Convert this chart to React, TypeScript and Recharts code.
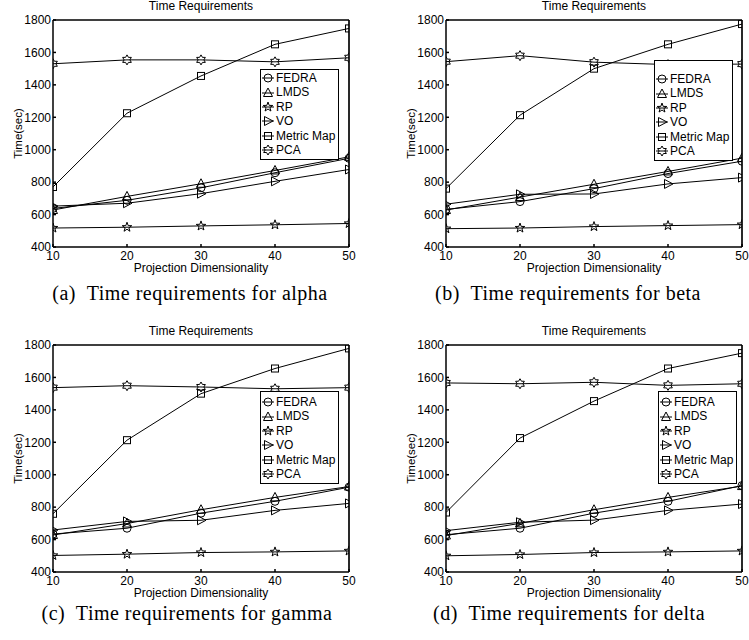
import React from "react";
import { Legend, Line, LineChart, ReferenceLine, XAxis, YAxis } from "recharts";

const SANS = "'Liberation Sans', Arial, Helvetica, sans-serif";
const SERIF = "'Liberation Serif', 'Times New Roman', serif";

const dims = [10, 20, 30, 40, 50];
const yTicks = [400, 600, 800, 1000, 1200, 1400, 1600, 1800];

// (a) alpha
const alphaFedra = [638, 688, 765, 858, 947];
const alphaLmds = [628, 712, 790, 872, 956];
const alphaRp = [517, 522, 530, 537, 545];
const alphaVo = [652, 670, 729, 805, 878];
const alphaMetricMap = [770, 1225, 1455, 1650, 1748];
const alphaPca = [1530, 1554, 1554, 1542, 1567];

// (b) beta
const betaFedra = [632, 680, 760, 853, 929];
const betaLmds = [628, 708, 787, 866, 948];
const betaRp = [513, 517, 526, 532, 538];
const betaVo = [664, 725, 727, 789, 828];
const betaMetricMap = [760, 1213, 1500, 1650, 1775];
const betaPca = [1543, 1580, 1540, 1525, 1528];

// (c) gamma
const gammaFedra = [634, 670, 763, 836, 923];
const gammaLmds = [628, 699, 784, 860, 927];
const gammaRp = [502, 510, 520, 524, 530];
const gammaVo = [659, 712, 719, 780, 823];
const gammaMetricMap = [759, 1213, 1500, 1655, 1779];
const gammaPca = [1537, 1549, 1541, 1530, 1537];

// (d) delta
const deltaFedra = [630, 670, 763, 836, 933];
const deltaLmds = [625, 700, 784, 860, 930];
const deltaRp = [500, 508, 520, 524, 530];
const deltaVo = [655, 707, 720, 780, 819];
const deltaMetricMap = [767, 1226, 1454, 1655, 1750];
const deltaPca = [1566, 1561, 1570, 1551, 1561];

type Shape = "circle" | "triUp" | "pentagram" | "triRight" | "square" | "hexagram";

const SERIES: { key: string; name: string; shape: Shape }[] = [
  { key: "fedra", name: "FEDRA", shape: "circle" },
  { key: "lmds", name: "LMDS", shape: "triUp" },
  { key: "rp", name: "RP", shape: "pentagram" },
  { key: "vo", name: "VO", shape: "triRight" },
  { key: "mm", name: "Metric Map", shape: "square" },
  { key: "pca", name: "PCA", shape: "hexagram" },
];

function starPoints(cx: number, cy: number, n: number, ro: number, ri: number) {
  const pts: string[] = [];
  for (let i = 0; i < n * 2; i++) {
    const r = i % 2 === 0 ? ro : ri;
    const a = -Math.PI / 2 + (i * Math.PI) / n;
    pts.push(`${cx + r * Math.cos(a)},${cy + r * Math.sin(a)}`);
  }
  return pts.join(" ");
}

function MarkerShape({ shape, cx, cy }: { shape: Shape; cx: number; cy: number }) {
  const s = { fill: "none", stroke: "#000", strokeWidth: 1 };
  switch (shape) {
    case "circle":
      return <circle cx={cx} cy={cy} r={4} {...s} />;
    case "triUp":
      return <polygon points={`${cx},${cy - 5} ${cx - 4.5},${cy + 3.5} ${cx + 4.5},${cy + 3.5}`} {...s} />;
    case "triRight":
      return <polygon points={`${cx + 5},${cy} ${cx - 3.5},${cy - 4.5} ${cx - 3.5},${cy + 4.5}`} {...s} />;
    case "square":
      return <rect x={cx - 3.5} y={cy - 3.5} width={7} height={7} {...s} />;
    case "pentagram":
      return <polygon points={starPoints(cx, cy, 5, 5, 2)} {...s} />;
    default:
      return <polygon points={starPoints(cx, cy, 6, 5, 2.9)} {...s} />;
  }
}

function LegendBox({ padTop }: { padTop: number }) {
  return (
    <div
      style={{
        border: "1px solid #000",
        background: "#fff",
        padding: `${padTop}px 3px 2px 1px`,
        fontFamily: SANS,
        fontSize: 12,
        lineHeight: "14.4px",
        color: "#000",
      }}
    >
      {SERIES.map((s) => (
        <div key={s.key} style={{ display: "flex", alignItems: "center", whiteSpace: "nowrap", height: 14.4 }}>
          <svg width={12} height={12} style={{ overflow: "visible" }}>
            <line x1={0} x2={12} y1={6} y2={6} stroke="#000" strokeWidth={1} />
            <MarkerShape shape={s.shape} cx={6} cy={6} />
          </svg>
          <span style={{ marginLeft: 2 }}>{s.name}</span>
        </div>
      ))}
    </div>
  );
}

type PanelProps = {
  left: number;
  top: number;
  fedra: number[];
  lmds: number[];
  rp: number[];
  vo: number[];
  mm: number[];
  pca: number[];
  legendLeft: number;
  legendTop: number;
  legendPad: number;
};

function Panel(p: PanelProps) {
  const data = dims.map((d, i) => ({
    dim: d,
    fedra: p.fedra[i],
    lmds: p.lmds[i],
    rp: p.rp[i],
    vo: p.vo[i],
    mm: p.mm[i],
    pca: p.pca[i],
  }));
  const tickStyle = { fontSize: 12, fill: "#000", fontFamily: SANS };
  return (
    <div style={{ position: "absolute", left: p.left, top: p.top, width: 370, height: 280 }}>
      <div
        style={{
          position: "absolute",
          left: 53,
          width: 296,
          top: 0,
          textAlign: "center",
          fontFamily: SANS,
          fontSize: 12,
          lineHeight: "13px",
          color: "#000",
        }}
      >
        Time Requirements
      </div>
      <LineChart width={370} height={280} data={data} margin={{ top: 19, right: 20, left: 13, bottom: 3 }}>
        <XAxis
          dataKey="dim"
          type="number"
          domain={[10, 50]}
          ticks={dims}
          allowDataOverflow
          height={30}
          tickSize={-3}
          tickMargin={7}
          tick={tickStyle}
          stroke="#000"
          strokeWidth={1.5}
          label={{ value: "Projection Dimensionality", position: "insideBottom", offset: 5, fill: "#000", fontSize: 12, fontFamily: SANS }}
        />
        <XAxis
          xAxisId="top"
          orientation="top"
          type="number"
          domain={[10, 50]}
          ticks={dims}
          allowDataOverflow
          height={1}
          tick={false}
          tickSize={-3}
          stroke="#000"
          strokeWidth={1.2}
        />
        <YAxis
          type="number"
          domain={[400, 1800]}
          ticks={yTicks}
          allowDataOverflow
          width={40}
          tickSize={-3}
          tickMargin={5}
          tick={tickStyle}
          stroke="#000"
          strokeWidth={1.5}
          label={{
            value: "Time(sec)",
            angle: -90,
            position: "insideLeft",
            offset: 5,
            fill: "#000",
            fontSize: 11.5,
            fontFamily: SANS,
            style: { textAnchor: "middle" },
          }}
        />
        <YAxis
          yAxisId="right"
          orientation="right"
          type="number"
          domain={[400, 1800]}
          ticks={yTicks}
          allowDataOverflow
          width={1}
          tick={false}
          tickSize={-3}
          stroke="#000"
          strokeWidth={1.2}
        />
        <ReferenceLine y={1800} stroke="#000" strokeWidth={1.2} />
        <ReferenceLine x={50} stroke="#000" strokeWidth={1.2} />
        <Legend
          layout="vertical"
          align="center"
          verticalAlign="middle"
          wrapperStyle={{ left: p.legendLeft, top: p.legendTop, width: "auto", height: "auto" }}
          content={() => <LegendBox padTop={p.legendPad} />}
        />
        {SERIES.map((s) => (
          <Line
            key={s.key}
            dataKey={s.key}
            name={s.name}
            type="linear"
            stroke="#000"
            strokeWidth={1}
            isAnimationActive={false}
            dot={(d: any) => <MarkerShape key={`${s.key}-${d.index}`} shape={s.shape} cx={d.cx} cy={d.cy} />}
            activeDot={false}
          />
        ))}
      </LineChart>
    </div>
  );
}

function Caption({ cx, baseline, text }: { cx: number; baseline: number; text: string }) {
  return (
    <div
      style={{
        position: "absolute",
        left: cx - 200,
        top: baseline - 18,
        width: 400,
        textAlign: "center",
        fontFamily: SERIF,
        fontSize: 20,
        lineHeight: "23px",
        letterSpacing: 0.5,
        whiteSpace: "pre",
        color: "#000",
      }}
    >
      {text}
    </div>
  );
}

export default function App() {
  return (
    <div style={{ position: "absolute", left: 0, top: 0, width: 749, height: 640, background: "#fff", overflow: "hidden" }}>
      <Panel left={0} top={0} fedra={alphaFedra} lmds={alphaLmds} rp={alphaRp} vo={alphaVo} mm={alphaMetricMap} pca={alphaPca} legendLeft={260} legendTop={69} legendPad={1} />
      <Panel left={393} top={0} fedra={betaFedra} lmds={betaLmds} rp={betaRp} vo={betaVo} mm={betaMetricMap} pca={betaPca} legendLeft={261} legendTop={60} legendPad={11} />
      <Panel left={0} top={325} fedra={gammaFedra} lmds={gammaLmds} rp={gammaRp} vo={gammaVo} mm={gammaMetricMap} pca={gammaPca} legendLeft={260} legendTop={66} legendPad={3} />
      <Panel left={393} top={325} fedra={deltaFedra} lmds={deltaLmds} rp={deltaRp} vo={deltaVo} mm={deltaMetricMap} pca={deltaPca} legendLeft={265} legendTop={66} legendPad={3} />
      <Caption cx={190} baseline={300} text="(a)  Time requirements for alpha" />
      <Caption cx={568} baseline={300} text="(b)  Time requirements for beta" />
      <Caption cx={187} baseline={620} text="(c)  Time requirements for gamma" />
      <Caption cx={569} baseline={620} text="(d)  Time requirements for delta" />
    </div>
  );
}
